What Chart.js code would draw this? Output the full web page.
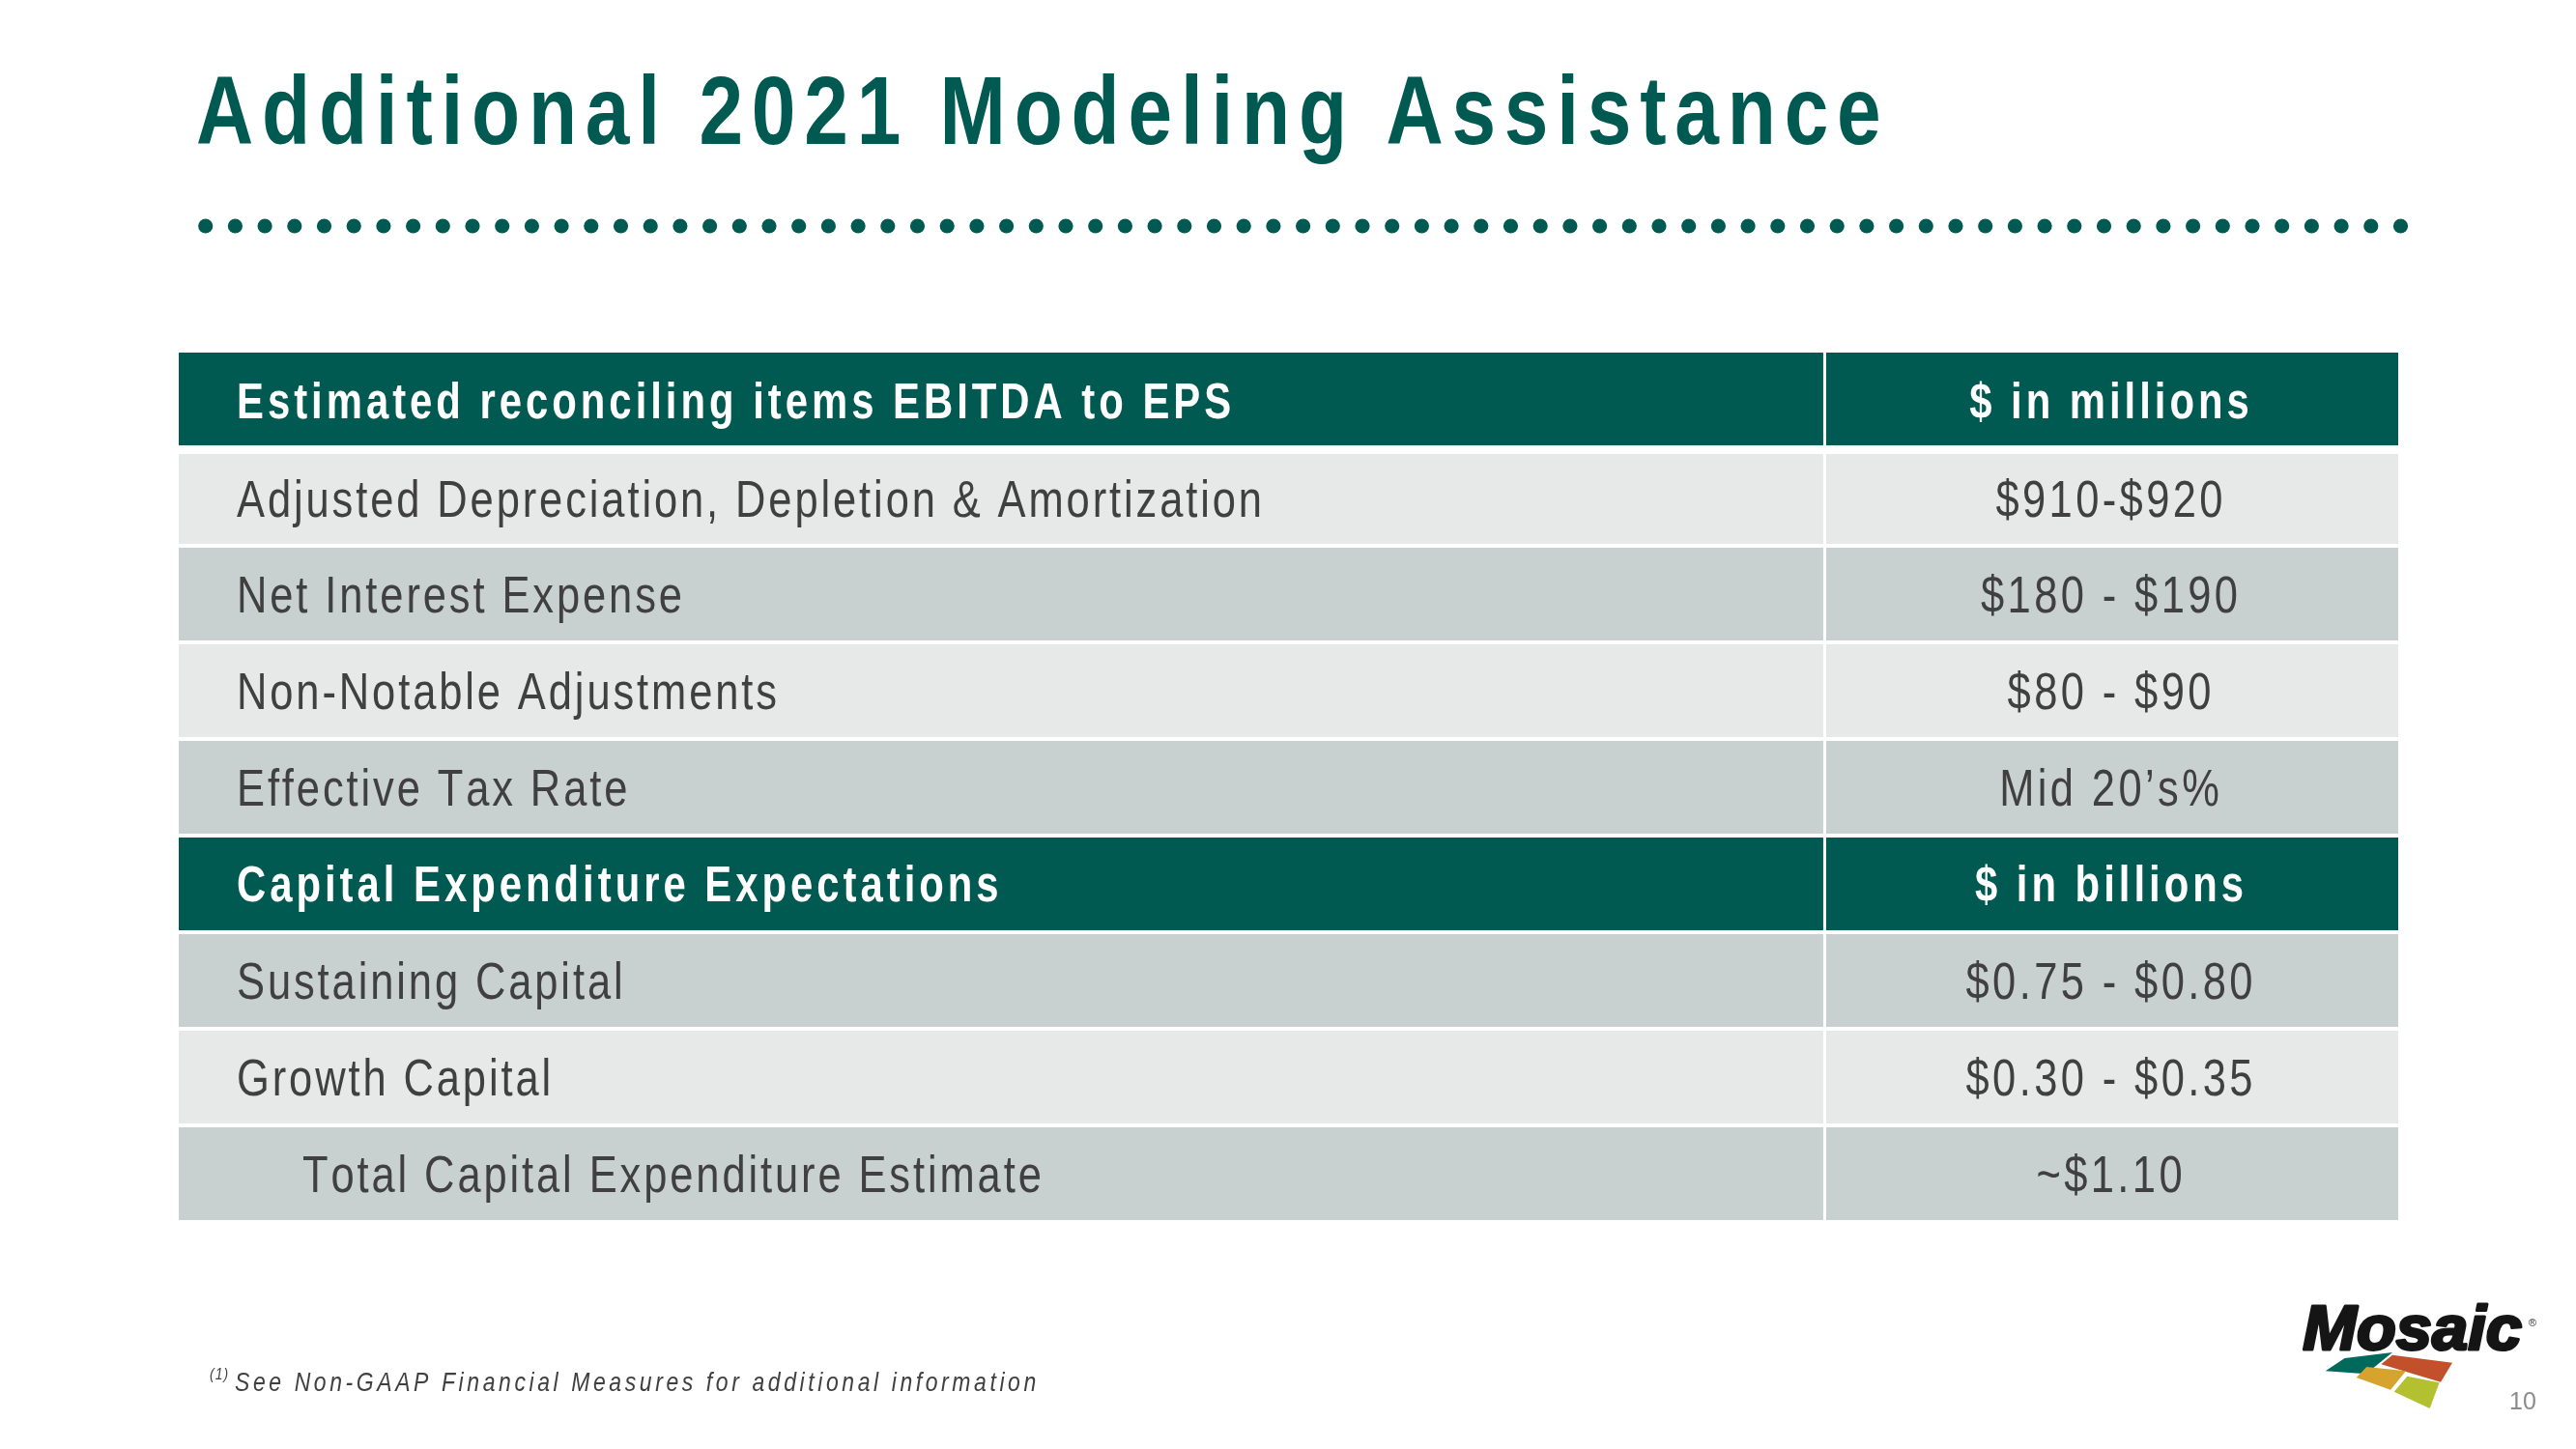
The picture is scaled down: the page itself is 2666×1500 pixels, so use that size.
<!DOCTYPE html>
<html>
<head>
<meta charset="utf-8">
<title>Additional 2021 Modeling Assistance</title>
<script src="https://cdn.jsdelivr.net/npm/chart.js@4.4.1/dist/chart.umd.min.js"></script>
<style>
  html, body { margin: 0; padding: 0; background: #ffffff; width: 2666px; height: 1500px; overflow: hidden; }
  #wrap { position: absolute; left: 0; top: 0; width: 2666px; height: 1500px; }
  #logo { position: absolute; left: 2350px; top: 1320px; width: 316px; height: 180px; }
</style>
</head>
<body>
<div id="wrap"><canvas id="c" width="2666" height="1500"></canvas></div>
<svg id="logo" viewBox="0 0 948 540" width="316" height="180" xmlns="http://www.w3.org/2000/svg">
  <text x="100" y="230" font-family="Liberation Sans, Arial, sans-serif" font-weight="bold" font-style="italic" font-size="196" textLength="680" lengthAdjust="spacingAndGlyphs" fill="#151515" stroke="#151515" stroke-width="9" stroke-linejoin="round">Mosaic</text>
  <text x="800" y="158" font-family="Liberation Sans, Arial, sans-serif" font-size="34" fill="#333333">®</text>
  <polygon points="170,298 230,258 378,240 296,307" fill="#00695B"/>
  <polygon points="343,277 378,248 564,272 528,332" fill="#C1502B"/>
  <polygon points="266,318 298,285 420,298 372,356" fill="#D6A32E"/>
  <polygon points="383,362 424,314 524,334 494,414" fill="#B3C130"/>
</svg>
<script>
// ---------------- data ----------------
const TITLE = "Additional 2021 Modeling Assistance";
const rowLabels = [
  "Estimated reconciling items EBITDA to EPS",
  "Adjusted Depreciation, Depletion & Amortization",
  "Net Interest Expense",
  "Non-Notable Adjustments",
  "Effective Tax Rate",
  "Capital Expenditure Expectations",
  "Sustaining Capital",
  "Growth Capital",
  "Total Capital Expenditure Estimate"
];
const rowValues = [
  "$ in millions",
  "$910-$920",
  "$180 - $190",
  "$80 - $90",
  "Mid 20\u2019s%",
  "$ in billions",
  "$0.75 - $0.80",
  "$0.30 - $0.35",
  "~$1.10"
];
const rowTypes = ["header", "item", "item", "item", "item", "header", "item", "item", "total"];
const FOOTNOTE_MARK = "(1)";
const FOOTNOTE = "See Non-GAAP Financial Measures for additional information";
const PAGE_NUMBER = "10";

// ---------------- styles ----------------
const GREEN = "#005A51";
const LIGHT = "#E7E9E8";
const DARK = "#C9D1D0";
const TEXT = "#404040";
const ROW_SHADE = [GREEN, LIGHT, DARK, LIGHT, DARK, GREEN, DARK, LIGHT, DARK];
const COL_SPLIT = 0.7416;          // share of table width taken by the first column
const CONDENSE = 0.82;             // narrow-font horizontal scale

const leftCells = rowLabels.map(() => [0, COL_SPLIT]);
const rightCells = rowValues.map(() => [COL_SPLIT, 1]);

function rowBorder(i, ds) {
  let top = 2, bottom = 2;
  if (i === 0) { top = 0; bottom = 4; }
  if (i === 1) { top = 5; bottom = 2; }
  return { top: top, bottom: bottom, left: ds === 0 ? 0 : 1.5, right: ds === 0 ? 1.5 : 0 };
}

function spacedText(ctx, text, x, y, o) {
  ctx.save();
  ctx.font = o.font;
  ctx.fillStyle = o.color;
  ctx.textBaseline = "alphabetic";
  ctx.textAlign = "left";
  ctx.translate(x, y);
  ctx.scale(o.sx, 1);
  const sp = o.spacing / o.sx;
  const chars = Array.from(text);
  const widths = chars.map(c => ctx.measureText(c).width);
  const total = widths.reduce((a, b) => a + b, 0) + sp * (chars.length - 1);
  let cx = o.align === "center" ? -total / 2 : 0;
  chars.forEach((c, k) => { ctx.fillText(c, cx, 0); cx += widths[k] + sp; });
  ctx.restore();
}

function capHeight(ctx, font) {
  ctx.save();
  ctx.font = font;
  const h = ctx.measureText("H").actualBoundingBoxAscent;
  ctx.restore();
  return h;
}

const pagePlugin = {
  id: "page",
  beforeDraw(chart) {
    const ctx = chart.ctx;
    // title
    spacedText(ctx, TITLE, 203, 149, { font: "bold 100px 'Liberation Sans', Arial, sans-serif", color: GREEN, spacing: 8.8, sx: CONDENSE });
    // dotted rule
    ctx.save();
    ctx.fillStyle = GREEN;
    const n = 75, x0 = 212.7, x1 = 2484.5;
    for (let k = 0; k < n; k++) {
      const cx = x0 + (x1 - x0) * k / (n - 1);
      ctx.beginPath();
      ctx.arc(cx, 234, 7.6, 0, Math.PI * 2);
      ctx.fill();
    }
    ctx.restore();
    // footnote
    spacedText(ctx, FOOTNOTE_MARK, 217, 1428, { font: "italic 17px 'Liberation Sans', Arial, sans-serif", color: TEXT, spacing: 1, sx: CONDENSE });
    spacedText(ctx, FOOTNOTE, 243, 1440, { font: "italic 28px 'Liberation Sans', Arial, sans-serif", color: TEXT, spacing: 3.6, sx: CONDENSE });
    // page number
    ctx.save();
    ctx.font = "25px 'Liberation Sans', Arial, sans-serif";
    ctx.fillStyle = "#8C8C8C";
    ctx.textAlign = "left";
    ctx.textBaseline = "alphabetic";
    ctx.fillText(PAGE_NUMBER, 2597, 1459);
    ctx.restore();
  },
  afterDatasetsDraw(chart) {
    const ctx = chart.ctx;
    const m0 = chart.getDatasetMeta(0), m1 = chart.getDatasetMeta(1);
    const headFont = "bold 51px 'Liberation Sans', Arial, sans-serif";
    const bodyFont = "53px 'Liberation Sans', Arial, sans-serif";
    const capHead = capHeight(ctx, headFont);
    const capBody = capHeight(ctx, bodyFont);
    rowLabels.forEach((label, i) => {
      const b0 = m0.data[i], b1 = m1.data[i];
      const cy = b0.y + (i === 1 ? 1 : 0);
      const isHead = rowTypes[i] === "header";
      const font = isHead ? headFont : bodyFont;
      const color = isHead ? "#FFFFFF" : TEXT;
      const cap = isHead ? capHead : capBody;
      const spacing = isHead ? 4 : 2.9;
      const left = Math.min(b0.base, b0.x);
      const indent = rowTypes[i] === "total" ? 128 : 60;
      spacedText(ctx, label, left + indent, cy + cap / 2, { font, color, spacing, sx: CONDENSE });
      const rl = Math.min(b1.base, b1.x) + 1.5, rr = Math.max(b1.base, b1.x);
      spacedText(ctx, rowValues[i], (rl + rr) / 2 - 3, cy + cap / 2, { font, color, spacing: isHead ? 4 : 3.4, sx: CONDENSE, align: "center" });
    });
  }
};

new Chart(document.getElementById("c"), {
  type: "bar",
  data: {
    labels: rowLabels,
    datasets: [
      {
        label: "Item",
        data: leftCells,
        backgroundColor: ROW_SHADE,
        borderColor: "#FFFFFF",
        borderWidth: (c) => rowBorder(c.dataIndex === undefined ? 2 : c.dataIndex, 0),
        borderSkipped: false,
        inflateAmount: 0,
        barPercentage: 1,
        categoryPercentage: 1,
        grouped: false
      },
      {
        label: "Value",
        data: rightCells,
        backgroundColor: ROW_SHADE,
        borderColor: "#FFFFFF",
        borderWidth: (c) => rowBorder(c.dataIndex === undefined ? 2 : c.dataIndex, 1),
        borderSkipped: false,
        inflateAmount: 0,
        barPercentage: 1,
        categoryPercentage: 1,
        grouped: false
      }
    ]
  },
  options: {
    indexAxis: "y",
    responsive: false,
    maintainAspectRatio: false,
    devicePixelRatio: 1,
    animation: false,
    layout: { padding: { left: 185, right: 184, top: 365, bottom: 235 } },
    scales: {
      x: { type: "linear", min: 0, max: 1, display: false },
      y: { type: "category", display: false, offset: true, grid: { display: false } }
    },
    plugins: {
      legend: { display: false },
      tooltip: { enabled: false },
      title: { display: false }
    },
    events: []
  },
  plugins: [pagePlugin]
});
</script>
</body>
</html>
